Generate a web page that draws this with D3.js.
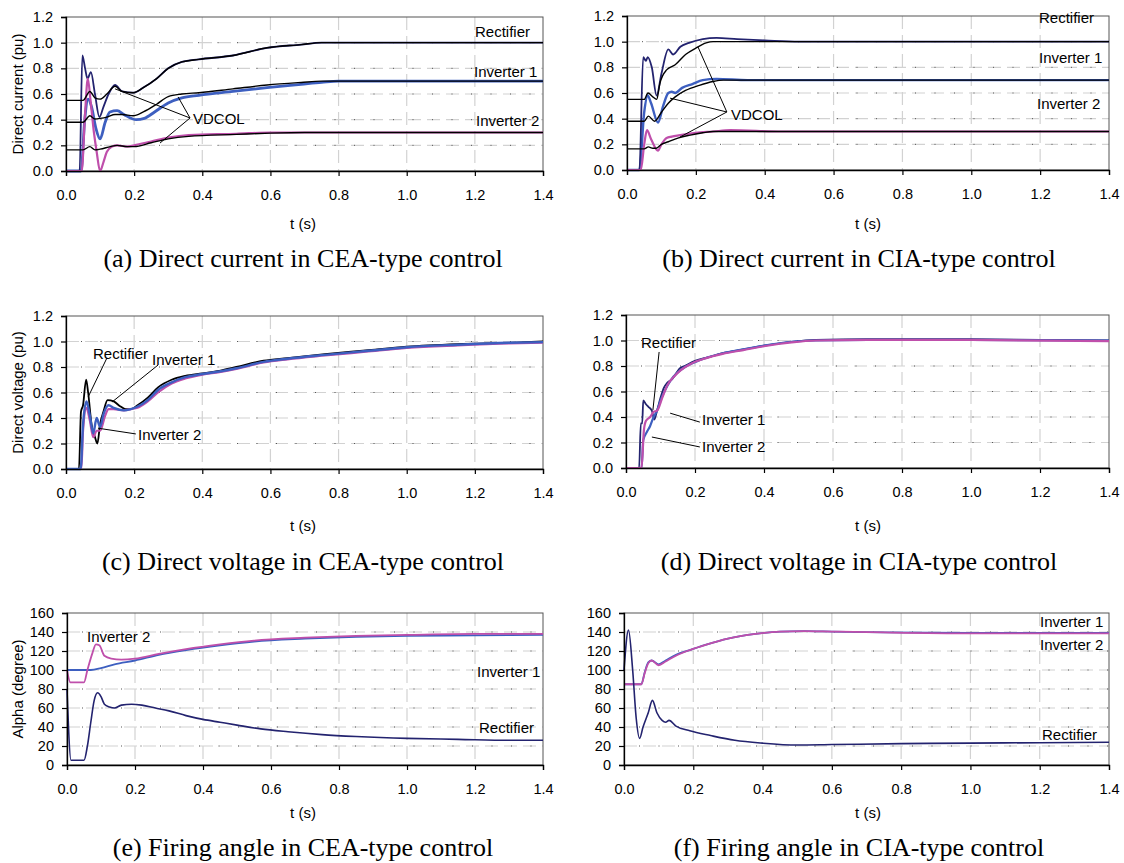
<!DOCTYPE html>
<html><head><meta charset="utf-8">
<script src="https://cdn.jsdelivr.net/npm/d3@7"></script>
<style>
body{margin:0;background:#fff}
svg{display:block}
.tick text{font-family:"Liberation Sans",Arial,sans-serif;font-size:14.5px;fill:#000}
</style>
</head><body>
<svg id="fig" width="1124" height="863"></svg>
<script>
// Shared tick values
const timeTicks = [0, 0.2, 0.4, 0.6, 0.8, 1.0, 1.2, 1.4];
const puTicks = [0, 0.2, 0.4, 0.6, 0.8, 1.0, 1.2];
const alphaTicks = [0, 20, 40, 60, 80, 100, 120, 140, 160];

// (a) direct current, CEA-type control  [t (s), I (pu)]
const ceaIdRect = [[0,0],[0.04,0],[0.048,0.9],[0.056,0.8],[0.063,0.72],[0.073,0.77],[0.085,0.6],[0.098,0.42],[0.11,0.5],[0.125,0.6],[0.144,0.67],[0.165,0.62],[0.197,0.61],[0.227,0.65],[0.266,0.72],[0.3,0.8],[0.34,0.85],[0.39,0.87],[0.49,0.9],[0.59,0.96],[0.69,0.985],[0.75,1.0],[1.4,1.0]];
const ceaIdRectRef = [[0,0.55],[0.05,0.55],[0.07,0.62],[0.085,0.57],[0.1,0.56],[0.12,0.6],[0.144,0.66],[0.165,0.62],[0.197,0.61],[0.227,0.65],[0.266,0.72],[0.3,0.8],[0.34,0.85],[0.39,0.87],[0.49,0.9],[0.59,0.96],[0.69,0.985],[0.75,1.0],[1.4,1.0]];
const ceaIdInv1 = [[0,0],[0.044,0],[0.055,0.4],[0.065,0.56],[0.075,0.5],[0.088,0.33],[0.1,0.25],[0.115,0.38],[0.129,0.46],[0.15,0.47],[0.17,0.44],[0.206,0.4],[0.23,0.41],[0.26,0.46],[0.3,0.53],[0.34,0.57],[0.39,0.59],[0.49,0.62],[0.59,0.65],[0.69,0.675],[0.75,0.69],[0.8,0.7],[1.4,0.7]];
const ceaIdInv1Ref = [[0,0.38],[0.05,0.38],[0.07,0.43],[0.085,0.405],[0.1,0.41],[0.12,0.42],[0.144,0.44],[0.165,0.44],[0.197,0.43],[0.227,0.46],[0.266,0.52],[0.3,0.58],[0.34,0.6],[0.39,0.61],[0.49,0.64],[0.59,0.67],[0.69,0.69],[0.75,0.7],[1.4,0.7]];
const ceaIdInv2 = [[0,0],[0.046,0],[0.056,0.45],[0.064,0.72],[0.072,0.55],[0.082,0.3],[0.09,0.15],[0.1,0.0],[0.11,0.07],[0.12,0.15],[0.135,0.19],[0.15,0.2],[0.18,0.19],[0.2,0.2],[0.25,0.23],[0.3,0.26],[0.36,0.28],[0.5,0.29],[0.6,0.3],[1.4,0.3]];
const ceaIdInv2Ref = [[0,0.165],[0.05,0.165],[0.07,0.19],[0.085,0.165],[0.1,0.17],[0.13,0.19],[0.15,0.2],[0.18,0.19],[0.2,0.19],[0.25,0.22],[0.3,0.25],[0.36,0.27],[0.5,0.285],[0.6,0.295],[0.7,0.3],[1.4,0.3]];

// (b) direct current, CIA-type control
const ciaIdRect = [[0,0],[0.036,0],[0.047,0.88],[0.055,0.85],[0.06,0.88],[0.072,0.8],[0.086,0.58],[0.1,0.75],[0.12,0.94],[0.134,0.9],[0.155,0.96],[0.18,0.99],[0.22,1.02],[0.26,1.03],[0.32,1.02],[0.4,1.01],[0.5,1.0],[1.4,1.0]];
const ciaIdRectRef = [[0,0.55],[0.05,0.55],[0.061,0.6],[0.075,0.57],[0.086,0.55],[0.096,0.68],[0.115,0.78],[0.14,0.82],[0.17,0.9],[0.2,0.95],[0.23,0.99],[0.25,1.0],[1.4,1.0]];
const ciaIdInv1 = [[0,0],[0.036,0],[0.05,0.45],[0.06,0.58],[0.07,0.52],[0.09,0.37],[0.105,0.5],[0.12,0.6],[0.13,0.61],[0.14,0.6],[0.16,0.64],[0.19,0.67],[0.22,0.7],[0.26,0.71],[0.35,0.7],[1.4,0.7]];
const ciaIdInv1Ref = [[0,0.38],[0.05,0.38],[0.062,0.42],[0.08,0.38],[0.1,0.45],[0.12,0.52],[0.14,0.57],[0.17,0.62],[0.21,0.66],[0.25,0.69],[0.28,0.7],[1.4,0.7]];
const ciaIdInv2 = [[0,0],[0.04,0],[0.05,0.2],[0.058,0.31],[0.07,0.24],[0.09,0.15],[0.1,0.2],[0.115,0.25],[0.13,0.26],[0.15,0.27],[0.2,0.29],[0.25,0.3],[0.3,0.31],[0.45,0.3],[1.4,0.3]];
const ciaIdInv2Ref = [[0,0.165],[0.05,0.165],[0.062,0.18],[0.075,0.17],[0.085,0.17],[0.1,0.2],[0.12,0.22],[0.15,0.25],[0.18,0.27],[0.22,0.29],[0.25,0.3],[1.4,0.3]];

// (c) direct voltage, CEA-type control  [t (s), V (pu)]
const ceaVdRect = [[0,0],[0.038,0],[0.044,0.45],[0.05,0.5],[0.059,0.7],[0.065,0.6],[0.075,0.35],[0.085,0.25],[0.092,0.2],[0.1,0.35],[0.11,0.45],[0.122,0.54],[0.14,0.53],[0.16,0.49],[0.175,0.47],[0.19,0.47],[0.21,0.5],[0.24,0.56],[0.27,0.64],[0.31,0.7],[0.35,0.73],[0.4,0.75],[0.45,0.77],[0.5,0.8],[0.58,0.85],[0.65,0.87],[0.76,0.9],[0.88,0.93],[1.0,0.96],[1.15,0.98],[1.3,0.99],[1.4,1.0]];
const ceaVdInv1 = [[0,0],[0.043,0],[0.05,0.35],[0.06,0.53],[0.07,0.42],[0.08,0.28],[0.09,0.4],[0.1,0.33],[0.11,0.43],[0.125,0.5],[0.14,0.48],[0.17,0.46],[0.19,0.47],[0.21,0.49],[0.24,0.54],[0.27,0.62],[0.31,0.68],[0.35,0.72],[0.4,0.745],[0.45,0.765],[0.5,0.79],[0.58,0.84],[0.65,0.865],[0.76,0.895],[0.88,0.925],[1.0,0.955],[1.15,0.975],[1.3,0.99],[1.4,0.995]];
const ceaVdInv2 = [[0,0],[0.045,0],[0.05,0.3],[0.06,0.48],[0.07,0.38],[0.08,0.25],[0.09,0.3],[0.1,0.3],[0.115,0.42],[0.125,0.47],[0.14,0.47],[0.17,0.46],[0.19,0.47],[0.21,0.48],[0.24,0.53],[0.27,0.6],[0.31,0.67],[0.35,0.71],[0.4,0.74],[0.45,0.76],[0.5,0.785],[0.58,0.835],[0.65,0.86],[0.76,0.89],[0.88,0.92],[1.0,0.95],[1.15,0.97],[1.3,0.985],[1.4,0.99]];

// (d) direct voltage, CIA-type control
const ciaVdRect = [[0,0],[0.038,0],[0.043,0.35],[0.047,0.35],[0.05,0.53],[0.058,0.5],[0.065,0.48],[0.075,0.45],[0.082,0.38],[0.09,0.45],[0.1,0.55],[0.11,0.63],[0.12,0.67],[0.135,0.7],[0.14,0.72],[0.155,0.78],[0.17,0.8],[0.2,0.84],[0.24,0.87],[0.28,0.9],[0.34,0.93],[0.4,0.96],[0.48,0.99],[0.55,1.005],[0.7,1.01],[1.0,1.01],[1.2,1.005],[1.4,1.0]];
const ciaVdInv1 = [[0,0],[0.045,0],[0.05,0.22],[0.06,0.28],[0.07,0.33],[0.08,0.4],[0.09,0.45],[0.1,0.53],[0.115,0.62],[0.13,0.69],[0.15,0.75],[0.17,0.79],[0.2,0.83],[0.24,0.87],[0.28,0.9],[0.34,0.93],[0.4,0.96],[0.48,0.99],[0.55,1.0],[0.7,1.005],[1.0,1.005],[1.4,1.0]];
const ciaVdInv2 = [[0,0],[0.045,0],[0.052,0.3],[0.058,0.37],[0.07,0.4],[0.08,0.44],[0.09,0.45],[0.105,0.55],[0.12,0.65],[0.14,0.72],[0.16,0.77],[0.19,0.82],[0.23,0.86],[0.28,0.895],[0.34,0.925],[0.4,0.955],[0.48,0.985],[0.55,1.0],[0.7,1.005],[1.0,1.005],[1.4,0.995]];

// (e) firing angle, CEA-type control  [t (s), alpha (deg)]
const ceaAlphaRect = [[0,80],[0.012,5],[0.05,5],[0.06,20],[0.07,45],[0.08,68],[0.09,76],[0.1,72],[0.11,64],[0.125,61],[0.14,60],[0.16,63],[0.19,64],[0.22,63],[0.26,60],[0.3,57],[0.35,52],[0.4,48],[0.45,45],[0.5,42],[0.57,38],[0.65,35],[0.75,32],[0.85,30],[1.0,28],[1.15,27],[1.3,26],[1.4,26]];
const ceaAlphaInv1 = [[0,100],[0.07,100],[0.1,102],[0.14,106],[0.2,110],[0.27,116],[0.35,121],[0.45,126],[0.55,130],[0.7,133],[0.85,135],[1.0,136],[1.2,136.5],[1.4,137]];
const ceaAlphaInv2 = [[0,100],[0.01,87],[0.05,87],[0.06,100],[0.075,118],[0.085,127],[0.095,126],[0.11,115],[0.13,112],[0.16,111],[0.2,112],[0.27,117],[0.35,122],[0.45,127],[0.55,131],[0.7,134],[0.85,136],[1.0,137],[1.2,138],[1.4,138]];

// (f) firing angle, CIA-type control
const ciaAlphaRect = [[0,100],[0.013,142],[0.025,100],[0.035,50],[0.045,28],[0.055,40],[0.07,55],[0.082,68],[0.095,55],[0.11,47],[0.12,45],[0.13,47],[0.15,41],[0.19,36],[0.25,31],[0.32,26],[0.4,23],[0.5,21],[0.6,21.5],[0.8,22.5],[1.0,23],[1.2,23.5],[1.4,24]];
const ciaAlphaInv1 = [[0,85],[0.05,85],[0.06,98],[0.07,108],[0.08,110],[0.1,106],[0.12,110],[0.15,116],[0.19,121],[0.24,127],[0.3,133],[0.38,138],[0.45,140.5],[0.52,141],[0.6,140.5],[0.75,139.5],[1.0,139],[1.4,139]];
const ciaAlphaInv2 = [[0,85],[0.05,85],[0.06,97],[0.07,107],[0.08,110],[0.1,105],[0.12,109],[0.15,115],[0.19,121],[0.24,127],[0.3,133],[0.38,138],[0.45,140.5],[0.52,141],[0.6,140.5],[0.75,139.5],[1.0,138.5],[1.4,138.5]];

const NAVY = "#23236f", BLUE = "#3d5fc0", MAGENTA = "#bf4fab", BLACK = "#000";
const SANS = "'Liberation Sans', Arial, sans-serif";
const SERIF = "'Liberation Serif', 'Times New Roman', serif";

const svg = d3.select("#fig");

const panels = [
  { box:[66,17,543,171], yMax:1.2, yTicks:puTicks, fmt:d3.format(".1f"), yTitle:"Direct current (pu)",
    caption:"(a) Direct current in CEA-type control", capX:303, capY:258, tX:303, tY:224,
    series:[[ceaIdInv1,BLUE,2.8],[ceaIdRect,NAVY,1.8],[ceaIdInv2,MAGENTA,2.2],
            [ceaIdRectRef,BLACK,1.4],[ceaIdInv1Ref,BLACK,1.4],[ceaIdInv2Ref,BLACK,1.4]],
    labels:[["Rectifier",475,32],["Inverter 1",474,72],["Inverter 2",476,121],["VDCOL",193,119]],
    leaders:[[[0.364,0.413],[0.144,0.64]],[[0.364,0.413],[0.329,0.577]],[[0.364,0.413],[0.276,0.218]]] },
  { box:[627,16,1109,170], yMax:1.2, yTicks:puTicks, fmt:d3.format(".1f"), yTitle:null,
    caption:"(b) Direct current in CIA-type control", capX:859, capY:258, tX:868, tY:224,
    series:[[ciaIdInv1,BLUE,2.4],[ciaIdRect,NAVY,1.8],[ciaIdInv2,MAGENTA,2.2],
            [ciaIdRectRef,BLACK,1.4],[ciaIdInv1Ref,BLACK,1.4],[ciaIdInv2Ref,BLACK,1.4]],
    labels:[["Rectifier",1039,18],["Inverter 1",1039,58],["Inverter 2",1037,104],["VDCOL",731,115]],
    leaders:[[[0.29,0.452],[0.206,0.96]],[[0.29,0.452],[0.125,0.56]],[[0.29,0.452],[0.154,0.257]]] },
  { box:[66,316,543,469], yMax:1.2, yTicks:puTicks, fmt:d3.format(".1f"), yTitle:"Direct voltage (pu)",
    caption:"(c) Direct voltage in CEA-type control", capX:303, capY:561, tX:303, tY:526,
    series:[[ceaVdRect,BLACK,1.8],[ceaVdInv2,MAGENTA,2.2],[ceaVdInv1,BLUE,2.4]],
    labels:[["Rectifier",93,354],["Inverter 1",152,360],["Inverter 2",138,435]],
    leaders:[[[0.12,0.87],[0.065,0.565]],[[0.27,0.815],[0.135,0.525]],[[0.205,0.275],[0.094,0.32]]] },
  { box:[626,315,1109,468], yMax:1.2, yTicks:puTicks, fmt:d3.format(".1f"), yTitle:null,
    caption:"(d) Direct voltage in CIA-type control", capX:859, capY:561, tX:868, tY:526,
    series:[[ciaVdRect,NAVY,1.8],[ciaVdInv1,BLUE,2.2],[ciaVdInv2,MAGENTA,2.2]],
    labels:[["Rectifier",641,343],["Inverter 1",702,420],["Inverter 2",702,447]],
    leaders:[[[0.096,0.91],[0.078,0.455]],[[0.214,0.36],[0.128,0.43]],[[0.214,0.165],[0.075,0.243]]] },
  { box:[67,613,543,765], yMax:160, yTicks:alphaTicks, fmt:d3.format("d"), yTitle:"Alpha (degree)",
    caption:"(e) Firing angle in CEA-type control", capX:303, capY:847, tX:303, tY:813,
    series:[[ceaAlphaInv1,BLUE,1.8],[ceaAlphaInv2,MAGENTA,1.8],[ceaAlphaRect,NAVY,1.6]],
    labels:[["Inverter 2",87,637],["Inverter 1",477,672],["Rectifier",479,728]],
    leaders:[] },
  { box:[624,613,1109,765], yMax:160, yTicks:alphaTicks, fmt:d3.format("d"), yTitle:null,
    caption:"(f) Firing angle in CIA-type control", capX:859, capY:847, tX:868, tY:813,
    series:[[ciaAlphaInv1,BLUE,1.8],[ciaAlphaInv2,MAGENTA,1.8],[ciaAlphaRect,NAVY,1.6]],
    labels:[["Inverter 1",1040,622],["Inverter 2",1040,645],["Rectifier",1042,735]],
    leaders:[] }
];

function drawPanel(p) {
  const [x0, y0, x1, y1] = p.box;
  const x = d3.scaleLinear().domain([0, 1.4]).range([x0, x1]);
  const y = d3.scaleLinear().domain([0, p.yMax]).range([y1, y0]);
  const g = svg.append("g");

  // grid: light dashes with small dark dots between them
  const grid = g.append("g");
  timeTicks.slice(1, -1).forEach(t => {
    grid.append("line").attr("x1", x(t)).attr("x2", x(t)).attr("y1", y0).attr("y2", y1)
      .attr("stroke", "#d2d2d2").attr("stroke-width", 1.2).attr("stroke-dasharray", "13,6");
  });
  p.yTicks.slice(1, -1).forEach(v => {
    grid.append("line").attr("x1", x0).attr("x2", x1).attr("y1", y(v)).attr("y2", y(v))
      .attr("stroke", "#d2d2d2").attr("stroke-width", 1.2).attr("stroke-dasharray", "13,6");
    grid.append("line").attr("x1", x0 + 15).attr("x2", x1).attr("y1", y(v)).attr("y2", y(v))
      .attr("stroke", "#555").attr("stroke-width", 1).attr("stroke-dasharray", "1,18.5");
  });

  // plot frame
  g.append("rect").attr("x", x0).attr("y", y0).attr("width", x1 - x0).attr("height", y1 - y0)
    .attr("fill", "none").attr("stroke", "#555").attr("stroke-width", 1);

  // curves
  const line = d3.line().x(d => x(d[0])).y(d => y(d[1])).curve(d3.curveMonotoneX);
  p.series.forEach(([data, color, w]) => {
    g.append("path").datum(data).attr("d", line).attr("fill", "none")
      .attr("stroke", color).attr("stroke-width", w).attr("stroke-linejoin", "round");
  });

  // axes
  const ax = g.append("g").attr("transform", `translate(0,${y1})`)
    .call(d3.axisBottom(x).tickValues(timeTicks).tickFormat(d3.format(".1f")).tickSize(5).tickPadding(14));
  const ay = g.append("g").attr("transform", `translate(${x0},0)`)
    .call(d3.axisLeft(y).tickValues(p.yTicks).tickFormat(p.fmt).tickSize(5).tickPadding(8));
  [ax, ay].forEach(a => {
    a.select(".domain").attr("stroke", "#000").attr("stroke-width", 1.3);
    a.selectAll(".tick line").attr("stroke", "#000").attr("stroke-width", 1.2);
  });

  // leader lines and series labels
  p.leaders.forEach(([a, b]) => {
    g.append("line").attr("x1", x(a[0])).attr("y1", y(a[1])).attr("x2", x(b[0])).attr("y2", y(b[1]))
      .attr("stroke", "#000").attr("stroke-width", 1);
  });
  p.labels.forEach(([txt, lx, ly]) => {
    g.append("text").attr("x", lx).attr("y", ly).attr("dy", "0.35em")
      .style("font-family", SANS).style("font-size", "15px").text(txt);
  });

  // axis titles and caption
  g.append("text").attr("x", p.tX).attr("y", p.tY).attr("dy", "0.35em").attr("text-anchor", "middle")
    .style("font-family", SANS).style("font-size", "15px").text("t (s)");
  if (p.yTitle) {
    g.append("text").attr("transform", `translate(18,${(y0 + y1) / 2}) rotate(-90)`)
      .attr("dy", "0.35em").attr("text-anchor", "middle")
      .style("font-family", SANS).style("font-size", "15px").text(p.yTitle);
  }
  g.append("text").attr("x", p.capX).attr("y", p.capY).attr("dy", "0.35em").attr("text-anchor", "middle")
    .style("font-family", SERIF).style("font-size", "26px").text(p.caption);
}

panels.forEach(drawPanel);
</script>
</body></html>
